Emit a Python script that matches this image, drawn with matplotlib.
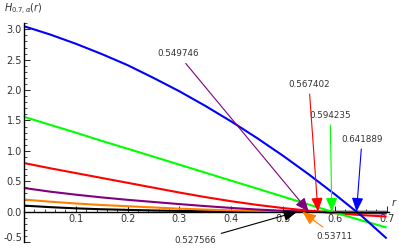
import matplotlib
matplotlib.use("Agg")
import matplotlib.pyplot as plt
import matplotlib.transforms as mtransforms
from matplotlib.ticker import MultipleLocator, FixedLocator
import numpy as np

r = [0.0, 0.05, 0.1, 0.15, 0.2, 0.25, 0.3, 0.35, 0.4, 0.45, 0.5, 0.55, 0.6, 0.65, 0.7]
h_blue = [3.05, 2.915, 2.762, 2.593, 2.41, 2.20, 1.98, 1.74, 1.484, 1.21, 0.92, 0.612, 0.286, -0.056, -0.44]
h_green = [1.56, 1.43, 1.30, 1.165, 1.035, 0.905, 0.773, 0.642, 0.51, 0.38, 0.248, 0.116, -0.015, -0.14, -0.26]
h_red = [0.80, 0.715, 0.635, 0.555, 0.475, 0.395, 0.315, 0.24, 0.172, 0.112, 0.06, 0.017, -0.025, -0.055, -0.08]
h_purple = [0.39, 0.33, 0.28, 0.235, 0.195, 0.16, 0.125, 0.092, 0.062, 0.036, 0.015, 0.0, -0.01, -0.02, -0.03]
h_orange = [0.20, 0.165, 0.135, 0.11, 0.09, 0.07, 0.05, 0.035, 0.022, 0.012, 0.004, -0.001, -0.005, -0.008, -0.01]
h_black = [0.10, 0.075, 0.055, 0.04, 0.03, 0.02, 0.013, 0.008, 0.004, 0.002, 0.0005, -0.0003, -0.001, -0.0015, -0.002]

# zeros of each curve and the labels pointing at them
roots = [0.641889, 0.594235, 0.567402, 0.549746, 0.53711, 0.527566]
root_labels = ["0.641889", "0.594235", "0.567402", "0.549746", "0.53711", "0.527566"]

colors = ["#0000ff", "#00ff00", "#ff0000", "#800080", "#ff8000", "#000000"]
series = [h_blue, h_green, h_red, h_purple, h_orange, h_black]
# label anchor positions (data coords)
label_pos = [(0.6525, 1.195), (0.591, 1.59), (0.550, 2.10), (0.297, 2.594),
             (0.600, -0.40), (0.330, -0.48)]

fig = plt.figure(figsize=(3.99, 2.50), dpi=100)
ax = fig.add_axes([0.0602, 0.0316, 0.9153, 0.8756])
ax.set_xlim(0, 0.705)
ax.set_ylim(-0.5, 3.1)

for ys, c in zip(series[::-1], colors[::-1]):
    ax.plot(r, ys, color=c, lw=1.5, solid_capstyle="butt", clip_on=False)

for x0, lab, c, (tx, ty) in zip(roots, root_labels, colors, label_pos):
    ax.annotate(lab, xy=(x0, 0), xytext=(tx, ty), textcoords="data",
                ha="center", va="center", fontsize=6.3, color="#333333",
                arrowprops=dict(arrowstyle="-|>,head_length=0.6,head_width=0.25",
                                color=c, lw=0.8, mutation_scale=14,
                                shrinkA=2, shrinkB=0))

for side in ("top", "right"):
    ax.spines[side].set_visible(False)
ax.spines["left"].set_position(("data", 0))
ax.spines["bottom"].set_position(("data", 0))
ax.spines["bottom"].set_linewidth(1.0)
ax.spines["left"].set_linewidth(1.0)

ax.xaxis.set_major_locator(FixedLocator([0.1, 0.2, 0.3, 0.4, 0.5, 0.6, 0.7]))
ax.xaxis.set_minor_locator(MultipleLocator(0.02))
ax.yaxis.set_major_locator(FixedLocator([-0.5, 0.0, 0.5, 1.0, 1.5, 2.0, 2.5, 3.0]))
ax.yaxis.set_minor_locator(MultipleLocator(0.1))
ax.xaxis.set_major_formatter(matplotlib.ticker.FormatStrFormatter("%.1f"))
ax.yaxis.set_major_formatter(matplotlib.ticker.FormatStrFormatter("%.1f"))
ax.tick_params(which="major", direction="in", length=4, width=0.6,
               labelsize=7, labelcolor="#333333", pad=1.5)
ax.tick_params(which="minor", direction="in", length=2, width=0.5)

# nudge the bottom tick label up so it stays inside the picture
lab0 = ax.yaxis.get_majorticklabels()[0]
lab0.set_transform(lab0.get_transform() +
                   mtransforms.ScaledTranslation(0, 3.5 / 72, fig.dpi_scale_trans))

ax.text(-0.038, 3.32, r"$H_{0.7,\alpha}(r)$", fontsize=7, ha="left", va="center",
        color="#333333", clip_on=False)
ax.text(0.709, 0.06, r"$r$", fontsize=7, ha="left", va="bottom", color="#333333",
        clip_on=False)

fig.savefig("out.png", dpi=100)
